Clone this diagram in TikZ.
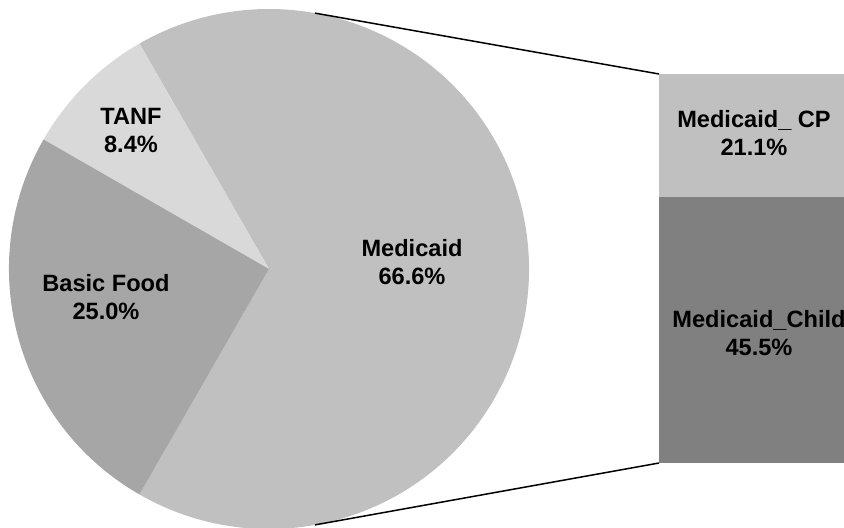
\documentclass[tikz,border=0pt]{standalone}
\usepackage{fontspec}
\setmainfont{Liberation Sans}
\usetikzlibrary{calc}
\definecolor{medicaidgray}{HTML}{C0C0C0}
\definecolor{tanfgray}{HTML}{D9D9D9}
\definecolor{foodgray}{HTML}{A6A6A6}
\definecolor{childgray}{HTML}{808080}
\begin{document}
\begin{tikzpicture}
        [x=0.5pt, y=0.5pt,
        lbl/.style={font=\fontsize{11.8}{14}\selectfont\bfseries, align=center, text=black},
        barbox/.style={rectangle, inner sep=0pt, outer sep=0pt, anchor=north west, minimum width=100pt},
        link/.style={draw=black, line width=0.75pt}]
        \useasboundingbox (0,0) rectangle (844,527);
        \coordinate (O) at (269,258);
        % pie slices
        \fill[medicaidgray] (O) -- ++(-119.88:260) arc[start angle=-119.88, end angle=119.88, radius=260] -- cycle;
        \fill[tanfgray] (O) -- ++(119.88:260) arc[start angle=119.88, end angle=150.12, radius=260] -- cycle;
        \fill[foodgray] (O) -- ++(150.12:260) arc[start angle=150.12, end angle=240.12, radius=260] -- cycle;
        \node (tanf) at (131,397) [lbl] {TANF\\8.4\%};
        \node (food) at (106,230) [lbl] {Basic Food\\25.0\%};
        \node (medicaid) at (412,265) [lbl] {Medicaid\\66.6\%};
        % bar of the Medicaid slice
        \node (cp) at (659,453) [barbox, fill=medicaidgray, minimum height=61.5pt] {};
        \node (child) at (659,330) [barbox, fill=childgray, minimum height=133pt] {};
        \node (cpLbl) at (754,394) [lbl] {Medicaid\_ CP\\21.1\%};
        \node (childLbl) at (759,194) [lbl] {Medicaid\_Child\\45.5\%};
        % connectors
        \coordinate (pieTop) at ($(O)+(79.8:260)$);
        \coordinate (pieBot) at ($(O)+(-79.8:260)$);
        \draw[link] (pieTop) -- (cp.north west);
        \draw[link] (pieBot) -- (child.south west);
\end{tikzpicture}
\end{document}
